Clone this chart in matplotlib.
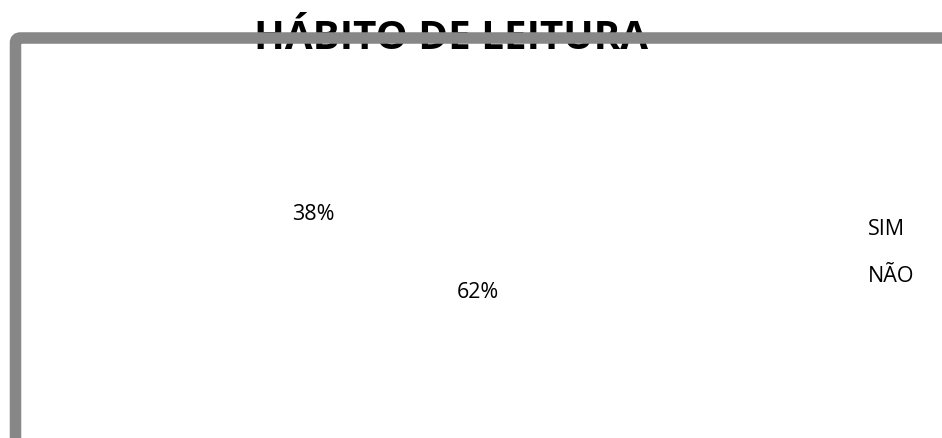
import matplotlib.pyplot as plt
from matplotlib.patches import FancyBboxPatch

plt.rcParams['font.family'] = ['Open Sans', 'DejaVu Sans']

# data
categorias = ["SIM", "NÃO"]
valores = [38, 62]
titulo = "HÁBITO DE LEITURA"

fig = plt.figure(figsize=(9.42, 4.39), dpi=100)

# pie axes, centre near (395, 254) px
ax = fig.add_axes([245.5 / 942, 35.25 / 439, 300 / 942, 300 / 439])
wedges, rotulos, textos = ax.pie(valores, startangle=86.4, counterclock=True,
                                 colors=["white", "white"],
                                 autopct="%1.0f%%", pctdistance=0.607,
                                 textprops={"fontsize": 15.5, "color": "black"})
ax.set_xlim(-1, 1)
ax.set_ylim(-1, 1)
ax.set_aspect("equal")

leg = fig.legend(wedges, categorias, loc="upper left",
                 bbox_to_anchor=(810 / 942, 1 - 200 / 439),
                 frameon=False, fontsize=15.5, labelspacing=1.2,
                 handlelength=1.0, handletextpad=0.8)

# title (sits under the border line)
fig.text(451.5 / 942, 1 - 49 / 439, titulo, ha="center", va="baseline",
         fontsize=29, fontweight="bold", zorder=1)

# grey border running off the right and bottom edges
borda = FancyBboxPatch((15.5, -60), 1000, 439 - 39 + 60,
                       boxstyle="round,pad=0,rounding_size=5",
                       transform=None, fill=False,
                       edgecolor="#878787", linewidth=8.3, zorder=2)
fig.patches.append(borda)

fig.savefig("out.png", dpi=100)
